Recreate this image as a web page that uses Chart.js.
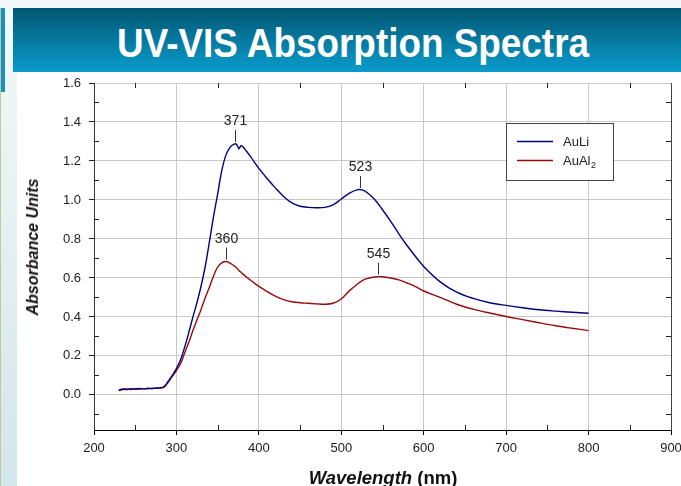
<!DOCTYPE html>
<html>
<head>
<meta charset="utf-8">
<script src="https://cdn.jsdelivr.net/npm/chart.js@4/dist/chart.umd.min.js"></script>
<style>
  html, body { margin:0; padding:0; }
  body { width:681px; height:486px; position:relative; overflow:hidden; background:#fff; font-family:"Liberation Sans", Arial, sans-serif; }
  #strip { position:absolute; left:0; top:0; width:17px; height:486px; background:linear-gradient(#f3f9fa, #d2e7eb); border-left:1px solid #c9c49a; box-sizing:border-box; }
  #topstrip { position:absolute; left:0; top:0; width:681px; height:8px; background:#f3f9fa; }
  #blueline { position:absolute; left:1px; top:8px; width:4px; height:84px; background:#1591c3; }
  #banner { position:absolute; left:13px; top:8px; width:668px; height:64px; background:linear-gradient(#015671, #0a9ccd); }
  #title { position:absolute; left:117px; top:23px; white-space:nowrap; color:#fff; font-weight:bold; font-size:40px; line-height:40px; transform:scaleX(0.922); transform-origin:left top; margin:0; }
  canvas { position:absolute; left:0; top:0; }
  #ytitle { position:absolute; left:33px; top:247px; transform:translate(-50%,-50%) rotate(-90deg); white-space:nowrap; font-weight:bold; font-style:italic; font-size:16px; color:#111; }
  #xtitle { position:absolute; left:383px; top:468px; transform:translateX(-50%); white-space:nowrap; font-weight:bold; font-size:18.5px; line-height:20px; color:#111; }
</style>
</head>
<body>
<div id="strip"></div>
<div id="topstrip"></div>
<div id="blueline"></div>
<canvas id="c" width="681" height="486"></canvas>
<div id="banner"></div>
<h1 id="title">UV-VIS Absorption Spectra</h1>
<div id="ytitle">Absorbance Units</div>
<div id="xtitle"><i>Wavelength</i> (nm)</div>
<script>
const wavelengths = [230,235,240,245,250,255,260,265,270,275,280,285,290,295,300,305,310,315,320,325,330,335,340,345,350,355,360,365,370,373,376,378,380,385,390,395,400,410,420,430,440,450,460,470,480,490,500,510,520,525,530,540,550,560,570,580,590,600,620,640,660,680,700,720,740,760,780,800];
const auLi = [0.025,0.030,0.028,0.032,0.030,0.033,0.031,0.034,0.033,0.035,0.036,0.042,0.070,0.100,0.135,0.180,0.245,0.320,0.400,0.475,0.560,0.660,0.785,0.915,1.030,1.150,1.230,1.270,1.287,1.285,1.262,1.278,1.275,1.250,1.222,1.192,1.162,1.110,1.062,1.018,0.985,0.968,0.962,0.960,0.962,0.975,1.005,1.035,1.053,1.052,1.042,1.005,0.950,0.890,0.825,0.765,0.710,0.659,0.580,0.527,0.495,0.473,0.459,0.447,0.437,0.430,0.424,0.419];
const auAl2 = [0.022,0.027,0.030,0.028,0.031,0.030,0.032,0.031,0.033,0.034,0.035,0.040,0.065,0.095,0.125,0.160,0.215,0.270,0.330,0.385,0.440,0.500,0.552,0.610,0.655,0.677,0.684,0.676,0.662,0.652,0.637,0.630,0.622,0.605,0.588,0.572,0.557,0.530,0.507,0.489,0.478,0.473,0.470,0.467,0.465,0.470,0.492,0.535,0.570,0.585,0.595,0.605,0.606,0.600,0.590,0.574,0.556,0.533,0.500,0.465,0.440,0.420,0.402,0.386,0.370,0.355,0.342,0.330];
const xTicks = [200,300,400,500,600,700,800,900];
const yTicks = [0.0,0.2,0.4,0.6,0.8,1.0,1.2,1.4,1.6];
const xMinor = [250,350,450,550,650,750,850];
const yMinor = [-0.1,0.1,0.3,0.5,0.7,0.9,1.1,1.3,1.5];
const peakWl = [371,523,360,545];
const peakAbs = [1.287,1.051,0.684,0.607];
const peakText = ['371','523','360','545'];
const seriesNames = ['AuLi','AuAl'];
const seriesSub = ['','2'];
const seriesColors = ['#00007f','#960c0c'];

const FONT = '"Liberation Sans", Arial, sans-serif';
Chart.defaults.font.family = FONT;
Chart.defaults.font.size = 13;
Chart.defaults.color = '#222';

const extras = {
  id:'extras',
  afterDraw(chart){
    const ctx = chart.ctx, a = chart.chartArea;
    const xs = chart.scales.x, ys = chart.scales.y;
    ctx.save();
    ctx.strokeStyle = '#444'; ctx.lineWidth = 1;
    ctx.beginPath(); ctx.moveTo(Math.round(a.right)+0.5, a.top); ctx.lineTo(Math.round(a.right)+0.5, a.bottom); ctx.stroke();
    ctx.strokeStyle = '#222';
    ctx.beginPath();
    xMinor.forEach(v => {
      const px = Math.round(xs.getPixelForValue(v)) + 0.5;
      ctx.moveTo(px, a.bottom); ctx.lineTo(px, a.bottom - 5);
      ctx.moveTo(px, a.top); ctx.lineTo(px, a.top + 5);
    });
    yMinor.forEach(v => {
      const py = Math.round(ys.getPixelForValue(v)) + 0.5;
      ctx.moveTo(a.left, py); ctx.lineTo(a.left + 5, py);
      ctx.moveTo(a.right, py); ctx.lineTo(a.right - 5, py);
    });
    ctx.stroke();
    ctx.strokeStyle = '#333'; ctx.fillStyle = '#222';
    ctx.font = '14px ' + FONT; ctx.textAlign = 'center'; ctx.textBaseline = 'alphabetic';
    peakWl.forEach((w, i) => {
      const px = Math.round(xs.getPixelForValue(w)) + 0.5;
      const py = ys.getPixelForValue(peakAbs[i]);
      ctx.beginPath(); ctx.moveTo(px, py - 2); ctx.lineTo(px, py - 14); ctx.stroke();
      ctx.fillText(peakText[i], px, py - 19);
    });
    const lx = 506.5, ly = 123.5, lw = 107, lh = 57;
    ctx.fillStyle = '#fff'; ctx.fillRect(lx, ly, lw, lh);
    ctx.strokeStyle = '#444'; ctx.lineWidth = 1; ctx.strokeRect(lx, ly, lw, lh);
    ctx.textAlign = 'left';
    seriesNames.forEach((n, i) => {
      const yy = 141.5 + i * 19;
      ctx.strokeStyle = seriesColors[i]; ctx.lineWidth = 1.3;
      ctx.beginPath(); ctx.moveTo(517, yy); ctx.lineTo(553, yy); ctx.stroke();
      ctx.fillStyle = '#222'; ctx.font = '13px ' + FONT;
      ctx.fillText(n, 563, yy + 4.5);
      if (seriesSub[i]) {
        const w = ctx.measureText(n).width;
        ctx.font = '9px ' + FONT;
        ctx.fillText(seriesSub[i], 563 + w + 0.5, yy + 7.5);
      }
    });
    ctx.restore();
  }
};

new Chart(document.getElementById('c'), {
  type:'line',
  data:{
    datasets:[
      { label:seriesNames[0], data:wavelengths.map((w,i)=>({x:w,y:auLi[i]})), borderColor:seriesColors[0], borderWidth:1.4, pointRadius:0, fill:false, tension:0.35 },
      { label:seriesNames[1]+seriesSub[1], data:wavelengths.map((w,i)=>({x:w,y:auAl2[i]})), borderColor:seriesColors[1], borderWidth:1.4, pointRadius:0, fill:false, tension:0.35 }
    ]
  },
  options:{
    responsive:false, animation:false, devicePixelRatio:1,
    layout:{ padding:{ top:83, left:0, right:10, bottom:0 } },
    plugins:{ legend:{display:false}, tooltip:{enabled:false}, title:{display:false} },
    scales:{
      x:{
        type:'linear', min:200, max:900,
        afterBuildTicks: s => { s.ticks = xTicks.map(v => ({value:v})); },
        afterFit: s => { s.height = 56; s.paddingLeft = 0; s.paddingRight = 0; },
        ticks:{ padding:6, color:'#222', font:{size:13}, maxRotation:0, autoSkip:false, callback: v => String(v) },
        grid:{ color:'#c8c8c8', lineWidth:1, tickColor:'#000', tickLength:5 },
        border:{ color:'#000', width:1 }
      },
      y:{
        type:'linear', min:-0.18, max:1.6,
        afterBuildTicks: s => { s.ticks = yTicks.map(v => ({value:v})); },
        afterFit: s => { s.width = 94; s.paddingTop = 0; s.paddingBottom = 0; },
        ticks:{ padding:8, color:'#222', font:{size:13}, autoSkip:false, callback: v => Number(v).toFixed(1) },
        grid:{ color:'#c8c8c8', lineWidth:1, tickColor:'#222', tickLength:5 },
        border:{ color:'#333', width:1 }
      }
    }
  },
  plugins:[extras]
});
</script>
</body>
</html>
